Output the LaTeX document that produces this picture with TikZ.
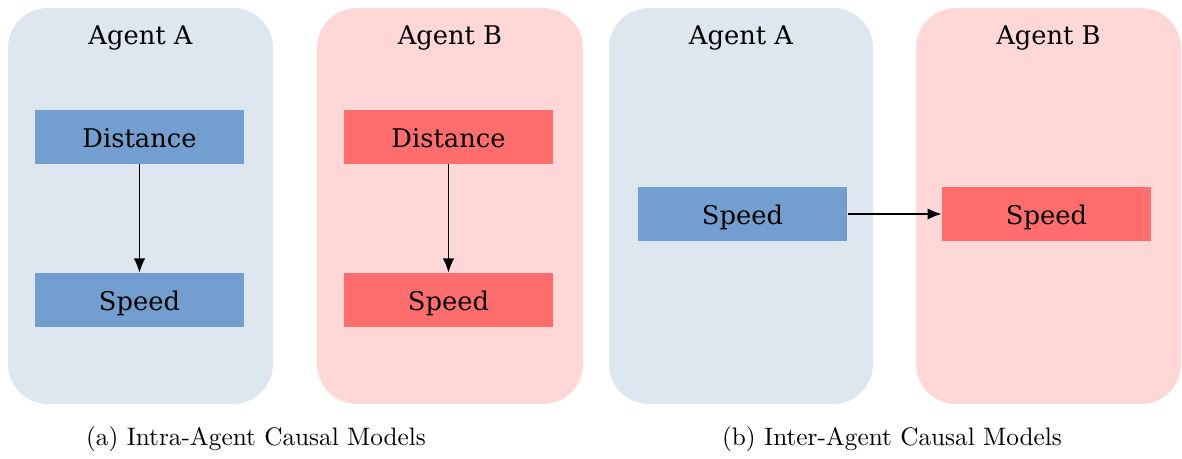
\documentclass[tikz,border=0pt]{standalone}
\usepackage{fontspec}
\newfontfamily\boxfont{DejaVu Serif}
\usetikzlibrary{arrows.meta}
\definecolor{panelblue}{HTML}{DEE6EF}
\definecolor{panelred}{HTML}{FFD7D7}
\definecolor{varblue}{HTML}{729FCF}
\definecolor{varred}{HTML}{FF6D6D}
\begin{document}
\begin{tikzpicture}[x=0.4pt,y=-0.4pt,
  panel/.style={rounded corners=16pt},
  title/.style={font=\boxfont\fontsize{10.3}{12}\selectfont, text=black, anchor=base, inner sep=0pt},
  var/.style={minimum width=83.6pt, minimum height=21.6pt, inner sep=0pt,
              text height=9.6pt, text depth=0.8pt,
              font=\boxfont\fontsize{10.3}{12}\selectfont, text=black},
  bluevar/.style={var, fill=varblue},
  redvar/.style={var, fill=varred},
  causal/.style={-{Latex[length=5.6pt,width=4.6pt]}, line width=0.55pt, draw=black},
  caption/.style={font=\fontsize{10.1}{12}\selectfont, anchor=center}]
\useasboundingbox (0,0) rectangle (1182,459);

% background panels
\fill[panelblue, panel] (8,8) rectangle (273,404);
\fill[panelred, panel] (317,8) rectangle (583,404);
\fill[panelblue, panel] (609,8) rectangle (873,404);
\fill[panelred, panel] (916,8) rectangle (1181,404);

% panel titles
\node[title] (tA1) at (140.5,45) {Agent A};
\node[title] (tB1) at (450,45) {Agent B};
\node[title] (tA2) at (741,45) {Agent A};
\node[title] (tB2) at (1048.5,45) {Agent B};

% (a) intra-agent models
\node[bluevar] (distA) at (139.5,137) {Distance};
\node[bluevar] (speedA) at (139.5,300) {Speed};
\node[redvar] (distB) at (448.5,137) {Distance};
\node[redvar] (speedB) at (448.5,300) {Speed};
\draw[causal] (distA) -- (speedA);
\draw[causal] (distB) -- (speedB);

% (b) inter-agent model
\node[bluevar] (speedA2) at (742.5,214) {Speed};
\node[redvar] (speedB2) at (1046.5,214) {Speed};
\draw[causal] (speedA2) -- (speedB2);

% sub-captions
\node[caption] (capa) at (256,439) {(a) Intra-Agent Causal Models};
\node[caption] (capb) at (892,439) {(b) Inter-Agent Causal Models};
\end{tikzpicture}
\end{document}
